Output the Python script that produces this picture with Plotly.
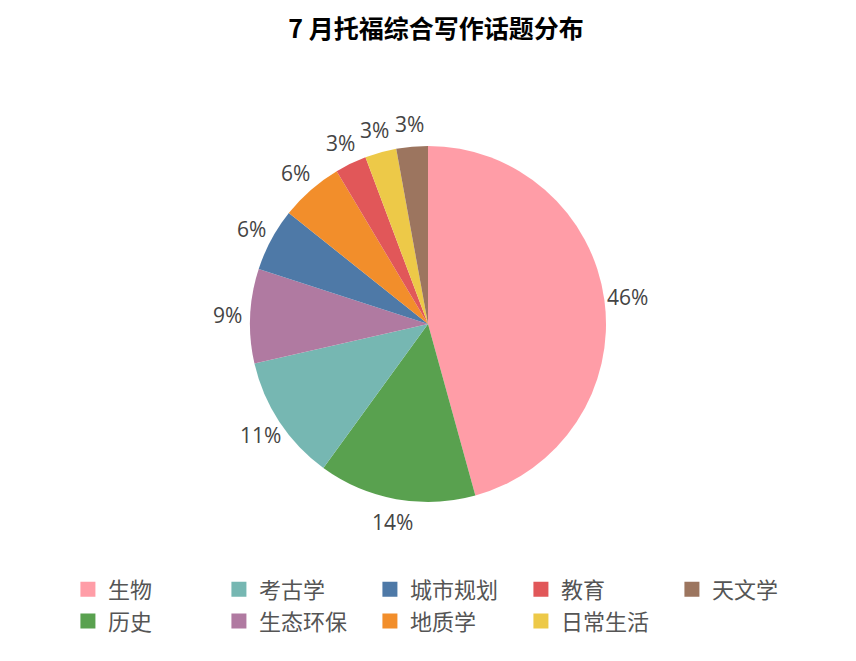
import math
import plotly.graph_objects as go

topics = ["生物", "历史", "考古学", "生态环保", "城市规划", "地质学", "教育", "日常生活", "天文学"]
counts = [16, 5, 4, 3, 2, 2, 1, 1, 1]
colors = ["#FF9DA7", "#59A14F", "#76B7B2", "#B07AA1", "#4E79A7",
          "#F28E2B", "#E15759", "#EDC948", "#9C755F"]
# legend is laid out column by column in the original
legend_order = ["生物", "考古学", "城市规划", "教育", "天文学",
                "历史", "生态环保", "地质学", "日常生活"]

W, H = 856, 661
# page has an 8px body margin, so the pie centre is given in figure pixels
cx, cy, R = 420, 316, 178
label_r = 201

fig = go.Figure()

fig.add_trace(go.Pie(
    labels=topics,
    values=counts,
    marker=dict(colors=colors, line=dict(width=0)),
    sort=False,
    direction="clockwise",
    rotation=0,
    textinfo="none",
    hoverinfo="label+percent",
    domain=dict(x=[(cx - R) / W, (cx + R) / W], y=[1 - (cy + R) / H, 1 - (cy - R) / H]),
    showlegend=False,
))

# percentage labels placed around the pie, at the middle angle of each slice
total = sum(counts)
cum = 0
for n in counts:
    ang = 2 * math.pi * (cum + n / 2) / total
    cum += n
    fig.add_annotation(
        x=(cx + label_r * math.sin(ang)) / W,
        y=1 - (cy - label_r * math.cos(ang)) / H,
        xref="paper", yref="paper",
        text="%d%%" % round(100 * n / total),
        showarrow=False, xanchor="center", yanchor="middle",
        font=dict(size=21, color="#444444", family="Open Sans"),
    )

# dummy traces only used to order the legend column-wise
for name in legend_order:
    c = colors[topics.index(name)]
    fig.add_trace(go.Scatter(
        x=[None], y=[None], mode="markers", name=name,
        marker=dict(symbol="square", size=15, color=c),
        showlegend=True,
    ))

fig.update_layout(
    width=W, height=H,
    margin=dict(l=0, r=0, t=0, b=0),
    paper_bgcolor="white",
    plot_bgcolor="white",
    xaxis=dict(visible=False),
    yaxis=dict(visible=False),
    title=dict(text="<b>7 月托福综合写作话题分布</b>", x=0.5, xanchor="center",
               y=0.968, yanchor="middle",
               font=dict(size=25, color="black", family="Noto Sans CJK SC")),
    legend=dict(orientation="h", x=0.07, y=0.152, xanchor="left", yanchor="top",
                entrywidth=106, entrywidthmode="pixels",
                font=dict(size=22, color="#555555", family="Noto Sans CJK SC"),
                itemwidth=30, tracegroupgap=0),
)

fig.write_html("out.html")
